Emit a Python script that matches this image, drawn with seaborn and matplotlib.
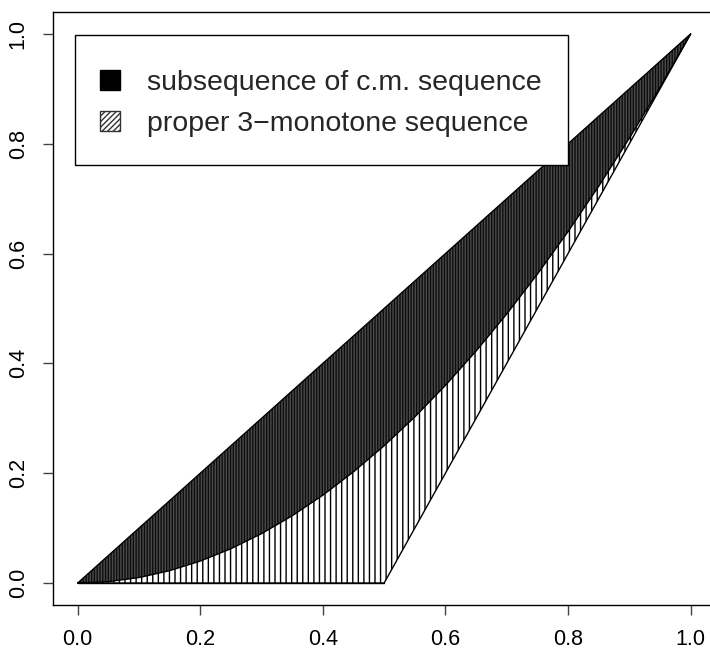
import matplotlib
matplotlib.use("Agg")
import matplotlib.pyplot as plt
from matplotlib.patches import Patch, Rectangle
import seaborn as sns
import pandas as pd

# boundary curves
x_pts = [0.0, 0.05, 0.1, 0.15, 0.2, 0.25, 0.3, 0.35, 0.4, 0.45, 0.5,
         0.55, 0.6, 0.65, 0.7, 0.75, 0.8, 0.85, 0.9, 0.95, 1.0]
upper = [0.0, 0.05, 0.1, 0.15, 0.2, 0.25, 0.3, 0.35, 0.4, 0.45, 0.5,
         0.55, 0.6, 0.65, 0.7, 0.75, 0.8, 0.85, 0.9, 0.95, 1.0]
middle = [0.0, 0.0025, 0.01, 0.0225, 0.04, 0.0625, 0.09, 0.1225, 0.16, 0.2025, 0.25,
          0.3025, 0.36, 0.4225, 0.49, 0.5625, 0.64, 0.7225, 0.81, 0.9025, 1.0]
lower = [0.0, 0.0, 0.0, 0.0, 0.0, 0.0, 0.0, 0.0, 0.0, 0.0, 0.0,
         0.1, 0.2, 0.3, 0.4, 0.5, 0.6, 0.7, 0.8, 0.9, 1.0]
legend_labels = ["subsequence of c.m. sequence", "proper 3\u2212monotone sequence"]
ticks = [0.0, 0.2, 0.4, 0.6, 0.8, 1.0]

sns.set_style("ticks")
plt.rcParams["font.family"] = ["Liberation Sans", "DejaVu Sans"]
plt.rcParams["hatch.linewidth"] = 1.0

df = pd.DataFrame({"x": x_pts, "upper": upper, "middle": middle, "lower": lower})

fig = plt.figure(figsize=(7.1, 6.49), dpi=100)
ax = fig.add_axes([0.0749, 0.0678, 0.9323, 0.9137])

# hatched region (3-monotone) and black region (c.m. subsequence)
ax.fill_between(df["x"], df["lower"], df["middle"], facecolor="white",
                edgecolor="black", hatch="|||", linewidth=0)
ax.fill_between(df["x"], df["middle"], df["upper"], facecolor="#0d0d0d",
                edgecolor="#4a4a4a", hatch="||||||", linewidth=0)

for col in ["upper", "middle", "lower"]:
    sns.lineplot(data=df, x="x", y=col, ax=ax, color="black", linewidth=1.0)

ax.plot([0.0, 0.5], [0.0, 0.0], color="black", linewidth=1.0)

ax.set_xlim(-0.04, 1.04)
ax.set_ylim(-0.04, 1.04)
ax.set_xticks(ticks)
ax.set_yticks(ticks)
ax.set_xticklabels([f"{t:.1f}" for t in ticks])
ax.set_yticklabels([f"{t:.1f}" for t in ticks], rotation=90, va="center")
ax.tick_params(axis="both", length=7.5, width=1, color="#444444",
               labelsize=15.5, pad=10, labelcolor="black")
ax.set_xlabel("")
ax.set_ylabel("")
for s in ax.spines.values():
    s.set_color("black")
    s.set_linewidth(1.0)

# legend box drawn separately so its padding can match the original
ax.add_patch(Rectangle((0.0329, 0.742), 0.7449, 0.2192, transform=ax.transAxes,
                       facecolor="white", edgecolor="black", linewidth=1.0,
                       zorder=4))
handles = [Patch(facecolor="black", edgecolor="black"),
           Patch(facecolor="white", edgecolor="#333333", hatch="//////")]
leg = ax.legend(handles, legend_labels, loc="upper left",
                bbox_to_anchor=(0.0707, 0.903), fontsize=20.5, frameon=False,
                handlelength=0.7, handleheight=0.7,
                handletextpad=0.95, borderpad=0, labelspacing=0.53,
                borderaxespad=0)
leg.set_zorder(5)

fig.savefig("out.png", dpi=100)
